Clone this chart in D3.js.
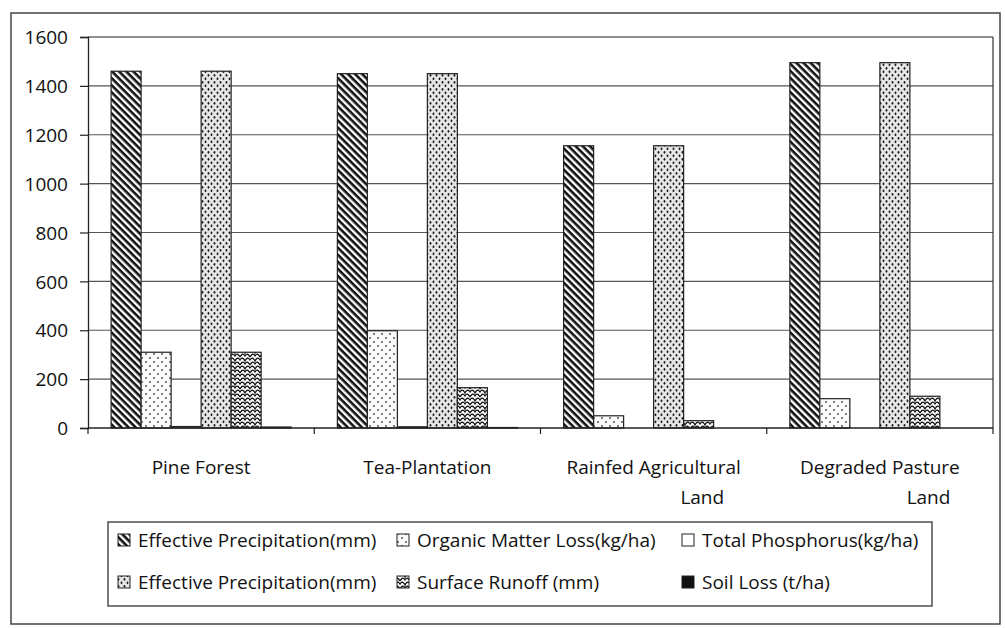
<!DOCTYPE html>
<html><head><meta charset="utf-8">
<script src="https://cdn.jsdelivr.net/npm/d3@7"></script>
<style>body{margin:0;background:#fff}svg{display:block}text{font-family:"Open Sans",sans-serif;fill:#111}</style>
</head><body><svg id="c" width="1005" height="628"></svg>
<script>
const categories = [["Pine Forest"],["Tea-Plantation"],["Rainfed Agricultural","Land"],["Degraded Pasture","Land"]];
const seriesNames = ["Effective Precipitation(mm)","Organic Matter Loss(kg/ha)","Total Phosphorus(kg/ha)","Effective Precipitation(mm)","Surface Runoff (mm)","Soil Loss (t/ha)"];
const effPrecip1 = [1460,1450,1155,1495];
const organicLoss = [310,398,50,120];
const totalPhos = [6,5,0,0];
const effPrecip2 = [1460,1450,1155,1495];
const surfaceRunoff = [310,165,30,130];
const soilLoss = [4,2,0,0];
const yTicks = [0,200,400,600,800,1000,1200,1400,1600];
const seriesValues = [effPrecip1,organicLoss,totalPhos,effPrecip2,surfaceRunoff,soilLoss];
const fills = ["url(#pDiag)","url(#pDotLight)","#ffffff","url(#pDotDense)","url(#pScale)","#111111"];

const svg = d3.select("#c");
const defs = svg.append("defs");
// diagonal stripes "\"
let p = defs.append("pattern").attr("id","pDiag").attr("patternUnits","userSpaceOnUse").attr("width",5).attr("height",5).attr("patternTransform","rotate(45)");
p.append("rect").attr("width",5).attr("height",5).attr("fill","#fff");
p.append("rect").attr("width",5).attr("height",2.6).attr("fill","#111");
// light dots
p = defs.append("pattern").attr("id","pDotLight").attr("patternUnits","userSpaceOnUse").attr("width",8).attr("height",8);
p.append("rect").attr("width",8).attr("height",8).attr("fill","#fafafa");
p.append("circle").attr("cx",2).attr("cy",2).attr("r",0.9).attr("fill","#444");
p.append("circle").attr("cx",6).attr("cy",6).attr("r",0.9).attr("fill","#444");
// dense dots
p = defs.append("pattern").attr("id","pDotDense").attr("patternUnits","userSpaceOnUse").attr("width",6).attr("height",7);
p.append("rect").attr("width",6).attr("height",7).attr("fill","#e6e6e6");
p.append("ellipse").attr("cx",1.5).attr("cy",1.8).attr("rx",0.9).attr("ry",1.4).attr("fill","#1a1a1a");
p.append("ellipse").attr("cx",4.5).attr("cy",5.3).attr("rx",0.9).attr("ry",1.4).attr("fill","#1a1a1a");
// scale / wave
p = defs.append("pattern").attr("id","pScale").attr("patternUnits","userSpaceOnUse").attr("width",10).attr("height",8);
p.append("rect").attr("width",10).attr("height",8).attr("fill","#fff");
p.append("path").attr("d","M0,5 Q2.5,0 5,4 Q7.5,0 10,5 M-5,9 Q-2.5,4 0,8 Q2.5,4 5,9 Q7.5,4 10,8 Q12.5,4 15,9 M-5,1 Q-2.5,-4 0,0 Q2.5,-4 5,1 Q7.5,-4 10,0 Q12.5,-4 15,1").attr("fill","none").attr("stroke","#111").attr("stroke-width",1.3);

// outer frame
svg.append("rect").attr("x",11).attr("y",13).attr("width",989).attr("height",611).attr("fill","none").attr("stroke","#444").attr("stroke-width",1.5);

const x0 = d3.scaleBand().domain(d3.range(categories.length)).range([88,993]).padding(0);
const x1 = d3.scaleBand().domain(d3.range(seriesNames.length)).range([0,x0.bandwidth()]).paddingInner(0).paddingOuter(0.77);
const y = d3.scaleLinear().domain([0,1600]).range([428,37]);

// gridlines
svg.append("g").selectAll("line").data(yTicks.filter(d=>d>0)).join("line")
  .attr("x1",88).attr("x2",993).attr("y1",d=>y(d)).attr("y2",d=>y(d))
  .attr("stroke",d=>d===1600?"#222":"#555").attr("stroke-width",1.2);
svg.append("line").attr("x1",993).attr("x2",993).attr("y1",y(1600)).attr("y2",y(0)).attr("stroke","#333").attr("stroke-width",1.2);

// bars
const g = svg.append("g");
categories.forEach((c,ci)=>{
  seriesValues.forEach((vals,si)=>{
    g.append("rect").attr("x",x0(ci)+x1(si)).attr("width",x1.bandwidth())
      .attr("y",y(vals[ci])).attr("height",y(0)-y(vals[ci]))
      .attr("fill",fills[si]).attr("stroke","#222").attr("stroke-width",1.2);
  });
});

// y axis
const ya = svg.append("g").attr("transform","translate(88,0)").call(d3.axisLeft(y).tickValues(yTicks).tickFormat(d3.format("d")).tickSize(8).tickPadding(12));
ya.select(".domain").attr("stroke","#222").attr("stroke-width",1.3);
ya.selectAll(".tick line").attr("stroke","#222").attr("stroke-width",1.2);
ya.selectAll(".tick text").attr("font-size",19).attr("font-family","Open Sans").attr("fill","#111").attr("dy","0.35em");

// x axis
const xa = svg.append("g").attr("transform","translate(0,428)");
xa.append("line").attr("x1",88).attr("x2",993).attr("stroke","#222").attr("stroke-width",1.3);
xa.selectAll(".tk").data(d3.range(categories.length+1)).join("line").attr("class","tk")
  .attr("x1",d=>88+d*x0.step()).attr("x2",d=>88+d*x0.step()).attr("y1",0).attr("y2",6).attr("stroke","#222").attr("stroke-width",1.2);
categories.forEach((lines,ci)=>{
  const t = xa.append("text").attr("text-anchor","middle").attr("font-size",19).attr("x",x0(ci)+x0.bandwidth()/2).attr("y",46);
  lines.forEach((ln,li)=>{
    if(li===0) t.append("tspan").attr("x",x0(ci)+x0.bandwidth()/2).text(ln);
    else t.append("tspan").attr("x",x0(ci)+x0.bandwidth()*0.715).attr("dy",30).text(ln);
  });
});

// legend
const lg = svg.append("g");
lg.append("rect").attr("x",108).attr("y",522).attr("width",824).attr("height",84).attr("fill","#fff").attr("stroke","#333").attr("stroke-width",1.3);
const colX = [118,397,682];
const rowY = [540,582];
seriesNames.forEach((name,i)=>{
  const cx = colX[i%3], cy = rowY[Math.floor(i/3)];
  lg.append("rect").attr("x",cx).attr("y",cy-6).attr("width",12).attr("height",12).attr("fill",fills[i]).attr("stroke","#222").attr("stroke-width",1);
  lg.append("text").attr("x",cx+20).attr("y",cy).attr("dy","0.35em").attr("font-size",19).text(name);
});
</script></body></html>
